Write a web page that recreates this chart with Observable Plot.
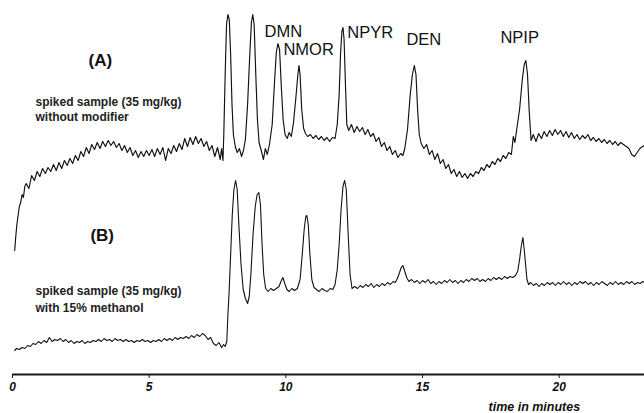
<!DOCTYPE html>
<html><head><meta charset="utf-8">
<script src="https://cdn.jsdelivr.net/npm/d3@7"></script>
<script src="https://cdn.jsdelivr.net/npm/@observablehq/plot@0.6"></script>
<style>
html,body{margin:0;padding:0;background:#fff;}
#chart svg{display:block;}
</style></head><body><div id="chart"></div>
<script>
// [time in minutes, detector signal (arbitrary units)]
const traceA = [
[0.08,124],[0.12,138],[0.16,150],[0.2,158],[0.25,168],[0.3,172],[0.35,180],[0.4,177],[0.45,188],[0.5,191],[0.6,186],[0.7,199],[0.8,194],[0.9,203],[1.0,198],[1.1,206],[1.2,201],[1.3,207],[1.4,203],[1.5,210],[1.6,204],[1.7,212],[1.8,206],[1.9,214],[2.0,209],[2.1,216],[2.2,211],[2.3,219],[2.4,214],[2.5,223],[2.6,218],[2.7,227],[2.8,221],[2.9,230],[3.0,225],[3.1,232],[3.2,226],[3.3,233],[3.4,228],[3.5,234],[3.6,229],[3.7,233],[3.8,227],[3.9,231],[4.0,224],[4.1,229],[4.2,222],[4.3,227],[4.4,219],[4.5,224],[4.6,217],[4.7,223],[4.8,218],[4.9,224],[5.0,219],[5.1,225],[5.2,218],[5.3,226],[5.4,220],[5.5,227],[5.6,214],[5.7,226],[5.8,221],[5.9,229],[6.0,223],[6.1,231],[6.2,225],[6.3,236],[6.4,228],[6.5,237],[6.6,230],[6.7,238],[6.8,231],[6.9,236],[7.0,228],[7.1,233],[7.2,224],[7.3,229],[7.4,218],[7.5,227],[7.6,215],[7.65,226],[7.7,214],
[7.73,240],[7.78,300],[7.83,350],[7.88,360],[7.93,355],[7.98,320],[8.03,270],[8.08,240],[8.15,228],[8.22,222],[8.3,226],[8.38,218],[8.45,224],[8.52,235],[8.6,270],[8.68,320],[8.74,352],[8.79,360],[8.84,350],[8.9,300],[8.96,255],[9.02,232],[9.1,224],[9.18,215],[9.25,226],[9.32,220],[9.4,230],[9.5,250],[9.58,290],[9.65,322],[9.71,331],[9.77,325],[9.83,290],[9.9,255],[9.97,240],[10.05,236],[10.12,242],[10.2,238],[10.28,252],[10.36,275],[10.44,300],[10.48,309],[10.52,300],[10.58,265],[10.65,246],[10.72,241],[10.8,238],[10.9,240],[11.0,236],[11.1,239],[11.2,235],[11.3,238],[11.4,234],[11.5,237],[11.6,233],[11.7,237],[11.8,236],[11.88,250],[11.95,280],[12.0,320],[12.05,343],[12.09,347],[12.13,335],[12.18,290],[12.23,250],[12.3,244],[12.4,250],[12.5,242],[12.6,248],[12.7,243],[12.8,247],[12.9,240],[13.0,245],[13.1,238],[13.2,241],[13.3,233],[13.4,237],[13.5,228],[13.6,232],[13.7,224],[13.8,228],[13.9,220],[14.0,224],[14.1,217],[14.2,221],[14.28,219],[14.35,226],[14.45,245],[14.55,280],[14.63,300],[14.7,309],[14.76,300],[14.82,265],[14.88,240],[14.95,231],[15.05,226],[15.15,230],[15.25,220],[15.35,224],[15.45,215],[15.55,221],[15.65,211],[15.75,215],[15.85,206],[15.95,210],[16.05,201],[16.15,205],[16.25,198],[16.35,203],[16.45,197],[16.55,201],[16.65,196],[16.75,201],[16.85,198],[16.95,203],[17.05,201],[17.15,207],[17.25,204],[17.35,210],[17.45,207],[17.55,213],[17.65,210],[17.75,216],[17.85,213],[17.95,219],[18.05,216],[18.15,222],[18.25,220],[18.32,238],[18.38,232],[18.45,246],[18.55,265],[18.65,295],[18.72,310],[18.78,314],[18.84,300],[18.9,265],[18.97,234],[19.05,240],[19.15,233],[19.25,241],[19.35,236],[19.45,243],[19.55,238],[19.65,244],[19.75,239],[19.85,245],[19.95,240],[20.05,244],[20.15,238],[20.25,243],[20.35,237],[20.45,242],[20.55,236],[20.65,240],[20.75,235],[20.85,239],[20.95,236],[21.05,240],[21.15,234],[21.25,237],[21.35,233],[21.45,236],[21.55,232],[21.65,235],[21.75,231],[21.85,234],[21.95,230],[22.05,233],[22.15,229],[22.25,232],[22.35,230],[22.45,228],[22.55,226],[22.65,220],[22.75,218],[22.85,222],[22.95,226],[23.05,228],[23.12,229]
];
const traceB = [
[0.08,24],[0.15,26],[0.25,25],[0.35,27],[0.45,26],[0.55,29],[0.65,28],[0.75,31],[0.85,30],[0.95,33],[1.05,31],[1.15,34],[1.25,32],[1.35,37],[1.45,33],[1.55,35],[1.65,34],[1.75,36],[1.85,33],[1.95,35],[2.05,32],[2.15,34],[2.25,31],[2.35,33],[2.45,32],[2.55,34],[2.65,31],[2.75,33],[2.85,32],[2.95,34],[3.05,33],[3.15,35],[3.25,33],[3.35,36],[3.45,34],[3.55,35],[3.65,33],[3.75,36],[3.85,34],[3.95,35],[4.05,33],[4.15,35],[4.25,33],[4.35,34],[4.45,32],[4.55,34],[4.65,33],[4.75,35],[4.85,33],[4.95,34],[5.05,32],[5.15,34],[5.25,33],[5.35,35],[5.45,33],[5.55,36],[5.65,34],[5.75,36],[5.85,34],[5.95,37],[6.05,35],[6.15,37],[6.25,36],[6.35,38],[6.45,36],[6.55,39],[6.65,37],[6.75,40],[6.85,38],[6.95,41],[7.05,39],[7.15,35],[7.25,37],[7.35,31],[7.45,29],[7.55,32],[7.65,27],[7.72,30],[7.78,28],[7.84,33],
[7.88,60],[7.92,80],[7.98,120],[8.04,160],[8.1,185],[8.16,194],[8.22,185],[8.28,150],[8.36,110],[8.44,85],[8.52,76],[8.6,71],[8.66,78],[8.72,100],[8.8,140],[8.88,168],[8.95,180],[9.01,182],[9.07,170],[9.13,130],[9.19,100],[9.26,86],[9.35,83],[9.45,86],[9.55,84],[9.65,86],[9.75,88],[9.82,93],[9.89,97],[9.96,91],[10.04,85],[10.12,83],[10.22,86],[10.32,84],[10.42,86],[10.52,95],[10.6,120],[10.67,145],[10.73,158],[10.77,159],[10.82,150],[10.88,120],[10.95,95],[11.03,87],[11.12,85],[11.22,83],[11.32,86],[11.42,84],[11.52,83],[11.62,86],[11.72,85],[11.8,90],[11.88,105],[11.95,130],[12.02,165],[12.09,188],[12.15,194],[12.21,185],[12.28,140],[12.35,100],[12.42,86],[12.52,88],[12.62,86],[12.72,89],[12.82,87],[12.92,90],[13.02,88],[13.12,91],[13.22,87],[13.32,90],[13.42,88],[13.52,91],[13.62,89],[13.72,92],[13.82,90],[13.92,93],[14.0,92],[14.08,96],[14.16,102],[14.22,107],[14.28,109],[14.34,104],[14.42,97],[14.5,93],[14.6,95],[14.7,92],[14.8,94],[14.9,91],[15.0,94],[15.1,92],[15.2,95],[15.3,91],[15.4,93],[15.5,90],[15.6,93],[15.7,91],[15.8,94],[15.9,92],[16.0,95],[16.1,92],[16.2,94],[16.3,91],[16.4,94],[16.5,92],[16.6,95],[16.7,93],[16.8,96],[16.9,94],[17.0,96],[17.1,93],[17.2,95],[17.3,93],[17.4,96],[17.5,94],[17.6,97],[17.7,95],[17.8,97],[17.9,95],[18.0,98],[18.1,96],[18.2,98],[18.3,97],[18.4,99],[18.48,103],[18.55,115],[18.61,128],[18.67,137],[18.72,125],[18.77,110],[18.82,95],[18.88,90],[18.96,92],[19.06,89],[19.16,91],[19.26,88],[19.36,91],[19.46,89],[19.56,92],[19.66,90],[19.76,92],[19.86,89],[19.96,92],[20.06,90],[20.16,93],[20.26,90],[20.36,92],[20.46,89],[20.56,92],[20.66,90],[20.76,93],[20.86,91],[20.96,93],[21.06,90],[21.16,92],[21.26,89],[21.36,92],[21.46,90],[21.56,93],[21.66,91],[21.76,89],[21.86,92],[21.96,90],[22.06,93],[22.16,90],[22.26,92],[22.36,90],[22.46,93],[22.56,91],[22.66,93],[22.76,90],[22.86,92],[22.96,91],[23.06,93],[23.12,92]
];

const peakNames = ["DMN", "NMOR", "NPYR", "DEN", "NPIP"];
const peakLabelTime = [9.22, 9.91, 12.25, 14.41, 17.85];
const peakLabelSignal = [338, 320, 337, 330, 332];

const panelTags = ["(A)", "(B)"];
const panelTagTime = [2.78, 2.85];
const panelTagSignal = [309, 134];

const panelNotes = ["spiked sample (35 mg/kg)", "without modifier", "spiked sample (35 mg/kg)", "with 15% methanol"];
const panelNoteTime = [0.84, 0.84, 0.84, 0.84];
const panelNoteSignal = [269, 254, 80, 63];

const xTicks = [0, 5, 10, 15, 20];
const xTitle = "time in minutes";
const xTitleTime = 19.09;

const chart = Plot.plot({
  width: 644, height: 413,
  marginLeft: 12, marginRight: 0, marginTop: 0, marginBottom: 39,
  style: {fontFamily: "'Liberation Sans', Arial, sans-serif", background: "#fff", color: "#111"},
  x: {domain: [0, 23.12]},
  y: {domain: [0, 374], axis: null},
  marks: [
    Plot.ruleY([0], {stroke: "#1a1a1a", strokeWidth: 1.8}),
    Plot.axisX(xTicks, {tickSize: 4, tickPadding: 4, fontSize: 12, fontWeight: "bold", fontStyle: "italic", label: null, stroke: "#1a1a1a", fill: "#111"}),
    Plot.text([xTitle], {x: xTitleTime, frameAnchor: "bottom", dy: 36, text: d => d, lineAnchor: "bottom", fontSize: 12.5, fontWeight: "bold", fontStyle: "italic", fill: "#111"}),
    Plot.line(traceA, {x: d => d[0], y: d => d[1], stroke: "#111", strokeWidth: 1.15}),
    Plot.line(traceB, {x: d => d[0], y: d => d[1], stroke: "#111", strokeWidth: 1.1}),
    Plot.text(peakNames, {x: (d, i) => peakLabelTime[i], y: (d, i) => peakLabelSignal[i], text: d => d, textAnchor: "start", lineAnchor: "bottom", fontSize: 16.5, fill: "#111"}),
    Plot.text(panelTags, {x: (d, i) => panelTagTime[i], y: (d, i) => panelTagSignal[i], text: d => d, textAnchor: "start", lineAnchor: "bottom", fontSize: 17, fontWeight: "bold", fill: "#111"}),
    Plot.text(panelNotes, {x: (d, i) => panelNoteTime[i], y: (d, i) => panelNoteSignal[i], text: d => d, textAnchor: "start", lineAnchor: "bottom", fontSize: 12, fontWeight: "bold", fill: "#222", style: "letter-spacing:0.4px"})
  ]
});
document.getElementById("chart").appendChild(chart);
</script>
</body></html>
